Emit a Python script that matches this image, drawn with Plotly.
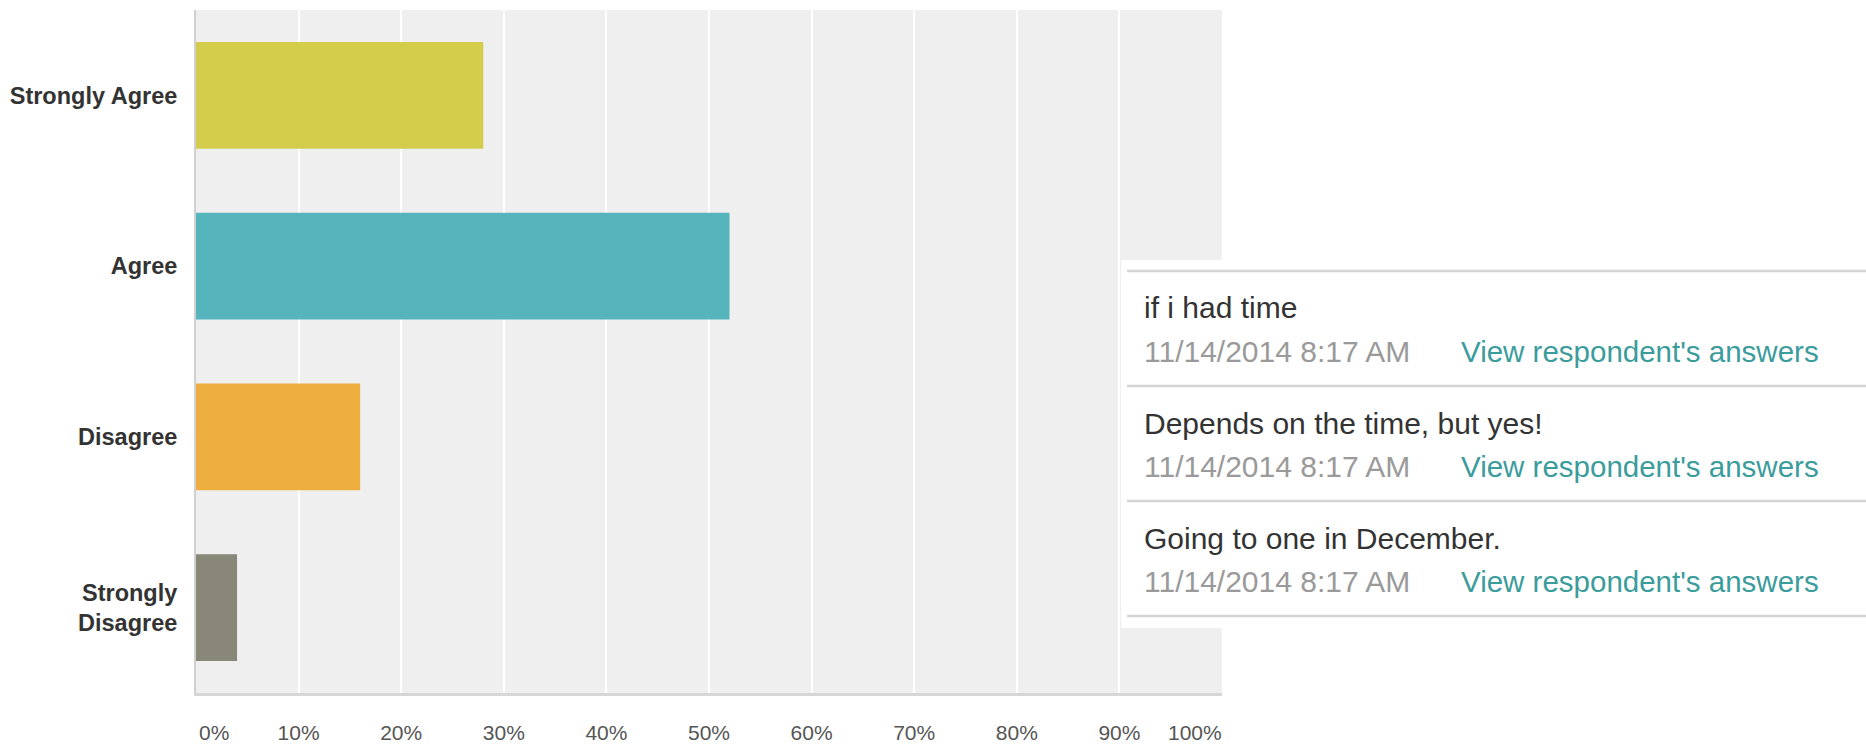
import plotly.graph_objects as go

categories = ["Strongly Agree", "Agree", "Disagree", "Strongly<br>Disagree"]
percent_values = [28, 52, 16, 4]
bar_colors = ["#D3CD4B", "#55B4BC", "#EDAE3F", "#898777"]
tick_values = [0, 10, 20, 30, 40, 50, 60, 70, 80, 90, 100]
tick_labels = ["0%", "10%", "20%", "30%", "40%", "50%", "60%", "70%", "80%", "90%", "100%"]

responses = ["if i had time", "Depends on the time, but yes!", "Going to one in December."]
response_dates = ["11/14/2014 8:17 AM", "11/14/2014 8:17 AM", "11/14/2014 8:17 AM"]
link_text = "View respondent's answers"

W, H = 1866, 745
ML, MR, MT, MB = 196, 644, 10, 52
PW = W - ML - MR
PH = H - MT - MB


def px(x):
    return (x - ML) / PW


def py(y):
    return (H - MB - y) / PH


fig = go.Figure()
fig.add_trace(go.Bar(
    y=categories,
    x=percent_values,
    orientation="h",
    marker=dict(color=bar_colors, line=dict(width=0)),
    hoverinfo="skip",
))

shapes = [
    dict(type="rect", xref="paper", yref="paper",
         x0=px(1121), x1=px(1870), y0=py(628), y1=py(260),
         fillcolor="white", line=dict(width=0), layer="above"),
]
for ly in [271, 386, 501, 616]:
    shapes.append(dict(type="line", xref="paper", yref="paper",
                       x0=px(1127), x1=px(1870), y0=py(ly), y1=py(ly),
                       line=dict(color="#D4D4D4", width=2.5), layer="above"))

annotations = []
text_font = "Liberation Sans, Arial, Helvetica, sans-serif"
tick_font = dict(family=text_font, size=21, color="#555555")
for i, (resp, dt) in enumerate(zip(responses, response_dates)):
    base = 308 + i * 115
    annotations.append(dict(xref="paper", yref="paper", x=px(1142), y=py(base),
                            text=resp, showarrow=False, xanchor="left", yanchor="middle",
                            font=dict(family=text_font, size=30, color="#333333")))
    annotations.append(dict(xref="paper", yref="paper", x=px(1142), y=py(base + 43),
                            text=dt, showarrow=False, xanchor="left", yanchor="middle",
                            font=dict(family=text_font, size=30, color="#9A9A9A")))
    annotations.append(dict(xref="paper", yref="paper", x=px(1459), y=py(base + 43),
                            text=link_text, showarrow=False, xanchor="left", yanchor="middle",
                            font=dict(family=text_font, size=29.5, color="#3B9C9C")))

# first and last x tick labels sit inside the plot edges, as in the reference
axis_ticktext = list(tick_labels)
axis_ticktext[0] = ""
axis_ticktext[-1] = ""
annotations.append(dict(xref="x", yref="paper", x=tick_values[0], y=py(732),
                        text=tick_labels[0], showarrow=False, xanchor="left", yanchor="middle",
                        xshift=1, font=tick_font))
annotations.append(dict(xref="x", yref="paper", x=tick_values[-1], y=py(732),
                        text=tick_labels[-1], showarrow=False, xanchor="right", yanchor="middle",
                        xshift=2, font=tick_font))

fig.update_layout(
    width=W, height=H,
    margin=dict(l=ML, r=MR, t=MT, b=MB, autoexpand=False),
    paper_bgcolor="white",
    plot_bgcolor="#EFEFEF",
    bargap=0.374,
    showlegend=False,
    shapes=shapes,
    annotations=annotations,
    xaxis=dict(
        range=[0, 100],
        tickvals=tick_values,
        ticktext=axis_ticktext,
        showgrid=True, gridcolor="white", gridwidth=2,
        zeroline=False,
        showline=True, linecolor="#D6D6D6", linewidth=3,
        ticks="", ticklabelstandoff=19,
        tickfont=tick_font,
        fixedrange=True,
    ),
    yaxis=dict(
        autorange="reversed",
        showgrid=False, zeroline=False,
        showline=True, linecolor="#D0D0D0", linewidth=2,
        ticks="", ticklabelstandoff=12,
        tickfont=dict(family=text_font, size=23.5, color="#333333", weight="bold"),
        fixedrange=True,
    ),
)

fig.write_html(
    "out.html",
    config={"displayModeBar": False},
    post_script="document.body.style.margin='0';document.body.style.overflow='hidden';",
)
